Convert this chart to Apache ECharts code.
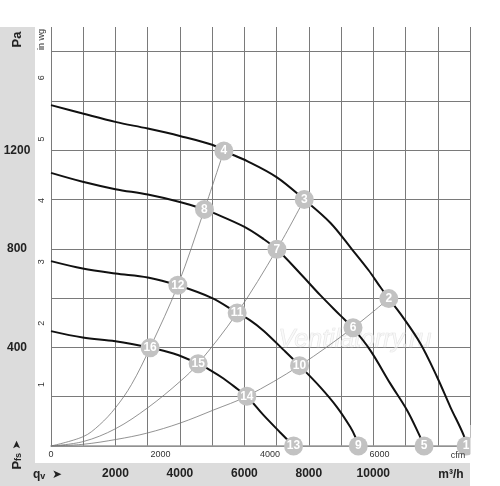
<!DOCTYPE html>
<html><head><meta charset="utf-8">
<script src="https://cdn.jsdelivr.net/npm/echarts/dist/echarts.min.js"></script>
<style>html,body{margin:0;padding:0;background:#fff}#c{width:500px;height:486px}</style>
</head><body><div id="c"></div>
<script>
// ---- data (m3/h, Pa) ----
const curveA = [[0,1383],[984,1349],[1997,1315],[3003,1288],[3997,1258],[5000,1222],[5363,1197],[6100,1155],[7009,1090],[7857,1000],[8665,906],[9338,798],[9854,713],[10217,645],[10481,598],[10839,537],[11460,416],[11978,280],[12391,158],[12805,43],[12879,0]];
const curveB = [[0,1108],[984,1072],[1997,1042],[3003,1020],[3997,990],[4761,960],[5000,948],[6003,889],[6594,840],[7009,798],[7733,700],[8354,612],[8975,530],[9370,478],[9907,388],[10528,253],[11047,145],[11407,50],[11574,0]];
const curveC = [[0,750],[984,720],[1997,700],[3003,684],[3935,652],[5000,600],[5776,540],[6180,510],[6594,468],[7214,390],[7711,326],[8354,239],[8872,158],[9286,77],[9441,37],[9534,0]];
const curveD = [[0,466],[984,440],[1997,425],[3075,399],[3798,375],[4565,334],[5000,303],[5351,274],[5817,228],[6077,202],[6594,125],[7112,55],[7525,0]];
const system1 = [[0,0],[1000,38],[1500,85],[2000,155],[2500,250],[3075,399],[3935,652],[4761,960],[5363,1197]];
const system2 = [[0,0],[1000,18],[2000,70],[3000,155],[4006,262],[4565,334],[5776,540],[7009,798],[7857,1000]];
const system3 = [[0,0],[1003,7],[2039,27],[2970,52],[4006,93],[5041,146],[6077,202],[7711,326],[9370,480],[10481,598]];
const markerQ = [12879,10481,7857,5363,11574,9370,7009,4761,9534,7711,5776,3935,7525,6077,4565,3075];
const markerP = [0,598,1000,1197,0,480,798,960,0,326,540,652,0,202,334,399];
const markerLabels = ['1','2','3','4','5','6','7','8','9','10','11','12','13','14','15','16'];
// ---- tick labels ----
const paLabels = [400,800,1200];
const inwgLabels = [1,2,3,4,5,6];
const qvLabels = [2000,4000,6000,8000,10000];
const cfmLabels = [0,2000,4000,6000];
const qMax = 13000, pMax = 1700;
const M3H_PER_CFM = 1.699, PA_PER_INWG = 249.089;

const chart = echarts.init(document.getElementById('c'), null, {renderer:'canvas'});
const font = 'Liberation Sans, Arial, sans-serif';
const gridColor = '#7a7a7a';
const markers = markerQ.map((q,i)=>[q, markerP[i], markerLabels[i]]);
function speed(d){return {type:'line',data:d,symbol:'none',smooth:0.35,lineStyle:{color:'#111',width:2},z:3};}
function sys(d){return {type:'line',data:d,symbol:'none',smooth:0.35,lineStyle:{color:'#777',width:0.8},z:2};}

chart.setOption({
  animation:false,
  textStyle:{fontFamily:font},
  grid:{left:51,right:30,top:27,bottom:40,containLabel:false},
  xAxis:[
    {type:'value',min:0,max:qMax,interval:1000,position:'bottom',
     axisLine:{show:true,lineStyle:{color:'#999',width:1.5}},axisTick:{show:false},
     axisLabel:{margin:22,fontSize:12,fontWeight:'bold',color:'#222',
       formatter:v=>qvLabels.includes(v)?String(v):''},
     splitLine:{show:true,lineStyle:{color:gridColor,width:1}}},
    {type:'value',min:0,max:qMax/M3H_PER_CFM,interval:2000,position:'bottom',
     axisLine:{show:false},axisTick:{show:false},splitLine:{show:false},
     axisLabel:{margin:4,fontSize:9,color:'#333',
       formatter:v=>cfmLabels.includes(v)?String(v):''}}
  ],
  yAxis:[
    {type:'value',min:0,max:pMax,interval:200,position:'left',
     axisLine:{show:false},axisTick:{show:false},
     axisLabel:{margin:34,align:'center',fontSize:12,fontWeight:'bold',color:'#222',
       formatter:v=>paLabels.includes(v)?String(v):''},
     splitLine:{show:true,showMaxLine:false,lineStyle:{color:gridColor,width:1}}},
    {type:'value',min:0,max:pMax/PA_PER_INWG,interval:1,position:'left',
     axisLine:{show:false},axisTick:{show:false},splitLine:{show:false},
     axisLabel:{margin:5,rotate:90,fontSize:9,color:'#333',
       formatter:v=>inwgLabels.includes(v)?String(v):''}}
  ],
  graphic:[
    {type:'rect',shape:{x:0,y:27,width:35,height:459},style:{fill:'#dcdcdc'},z:-10},
    {type:'rect',shape:{x:0,y:463,width:470,height:23},style:{fill:'#dcdcdc'},z:-10},
    {type:'text',x:17,y:39.5,rotation:Math.PI/2,style:{text:'Pa',font:'bold 13px '+font,fill:'#222',align:'center',verticalAlign:'middle'},z:10},
    {type:'text',x:41.5,y:39.5,rotation:Math.PI/2,style:{text:'in wg',font:'9px '+font,fill:'#333',align:'center',verticalAlign:'middle'},z:10},
    {type:'text',x:17,y:455,rotation:Math.PI/2,style:{text:'{p|P}{s|fs} {a|➤}',align:'center',verticalAlign:'middle',
      rich:{p:{fontSize:13,fontWeight:'bold',fill:'#222',fontFamily:font},s:{fontSize:9,fontWeight:'bold',fill:'#222',fontFamily:font,padding:[4,0,0,0]},a:{fontSize:11,fill:'#222',fontFamily:'DejaVu Sans'}}},z:10},
    {type:'text',x:33,y:475,style:{text:'{q|q}{v|v}  {a|➤}',align:'left',verticalAlign:'middle',
      rich:{q:{fontSize:12,fontWeight:'bold',fill:'#222',fontFamily:font},v:{fontSize:9,fontWeight:'bold',fill:'#222',fontFamily:font,padding:[3,0,0,0]},a:{fontSize:12,fill:'#222',fontFamily:'DejaVu Sans'}}},z:10},
    {type:'text',x:451,y:475,style:{text:'m³/h',font:'bold 12px '+font,fill:'#222',align:'center',verticalAlign:'middle'},z:10},
    {type:'text',x:458,y:456,style:{text:'cfm',font:'9px '+font,fill:'#333',align:'center',verticalAlign:'middle'},z:10},
    {type:'text',x:355,y:340,style:{text:'Ventilatorry.ru',font:'italic 25px '+font,fill:'rgba(245,245,245,0.5)',stroke:'rgba(215,215,215,0.7)',lineWidth:0.7,align:'center',verticalAlign:'middle'},z:1},
    {type:'rect',shape:{x:470.5,y:425,width:30,height:37},style:{fill:'#fff'},z:100}
  ],
  series:[
    sys(system1),sys(system2),sys(system3),
    speed(curveA),speed(curveB),speed(curveC),speed(curveD),
    {type:'scatter',data:markers,symbol:'circle',symbolSize:19,z:5,
     itemStyle:{color:'#c2c2c2',opacity:1},
     label:{show:true,position:'inside',formatter:p=>p.data[2],color:'#fff',fontWeight:'bold',fontSize:12,textBorderWidth:0,fontFamily:font}}
  ]
});
</script></body></html>
